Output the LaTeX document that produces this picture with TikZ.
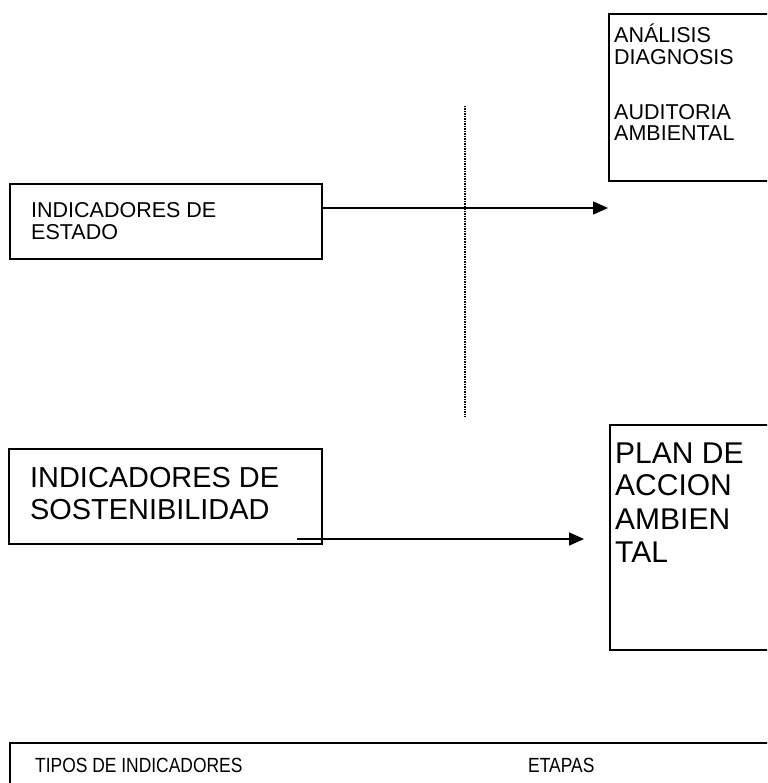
\documentclass[tikz,border=0pt]{standalone}
\usepackage{fontspec}
\setmainfont{Liberation Sans}
\newfontfamily\narrowfont[FakeStretch=0.85]{Liberation Sans}
\usetikzlibrary{arrows.meta}
\begin{document}
\begin{tikzpicture}[x=1pt,y=-1pt,
  box/.style={draw, line width=1.6pt, inner sep=0pt, anchor=north west},
  small/.style={font=\fontsize{21.5}{23}\selectfont, inner sep=0pt, anchor=base west},
  narrow/.style={font=\narrowfont\fontsize{20.5}{23}\selectfont, inner sep=0pt, anchor=base west},
  big/.style={font=\fontsize{28.9}{32}\selectfont, inner sep=0pt, anchor=base west},
  plan/.style={font=\fontsize{30}{33}\selectfont, inner sep=0pt, anchor=base west},
  arr/.style={line width=1.6pt, -{Triangle[length=15pt,width=13pt]}},
  dots/.style={line width=1.2pt, dash pattern=on 1.5pt off 1pt}]
\useasboundingbox (0,0) rectangle (767,783);
\clip (0,0) rectangle (767,783);
% boxes
\node[box, minimum width=200pt, minimum height=167pt] (diag) at (608,13) {};
\node[box, minimum width=312pt, minimum height=75pt] (estado) at (9,183) {};
\node[box, minimum width=313pt, minimum height=95pt] (sost) at (8,448) {};
\node[box, minimum width=200pt, minimum height=225pt] (plan) at (609,424) {};
\node[box, minimum width=800pt, minimum height=100pt] (tipos) at (9,742) {};
% texts
\node[small] (t1) at (614,43) {ANÁLISIS};
\node[small] (t2) at (614,65) {DIAGNOSIS};
\node[small] (t3) at (614,120) {AUDITORIA};
\node[small] (t4) at (614,141) {AMBIENTAL};
\node[small] (e1) at (31,218) {INDICADORES DE};
\node[small] (e2) at (31,240) {ESTADO};
\node[big] (s1) at (30,487) {INDICADORES DE};
\node[big] (s2) at (30,519) {SOSTENIBILIDAD};
\node[plan] (p1) at (615,463) {PLAN DE};
\node[plan] (p2) at (615,495) {ACCION};
\node[plan] (p3) at (615,529) {AMBIEN};
\node[plan] (p4) at (615,562) {TAL};
\node[narrow] (b1) at (35,772) {TIPOS DE INDICADORES};
\node[narrow] (b2) at (528,772) {ETAPAS};
% dotted divider
\coordinate (d1) at (465,106);
\coordinate (d2) at (465,417);
\draw[dots] (d1) -- (d2);
% arrows
\coordinate (a1s) at (321,208);
\draw[arr] (a1s) -- (diag.west |- a1s);
\coordinate (a2s) at (297,539);
\coordinate (a2e) at (584,539);
\draw[arr] (a2s) -- (a2e);
\end{tikzpicture}
\end{document}
